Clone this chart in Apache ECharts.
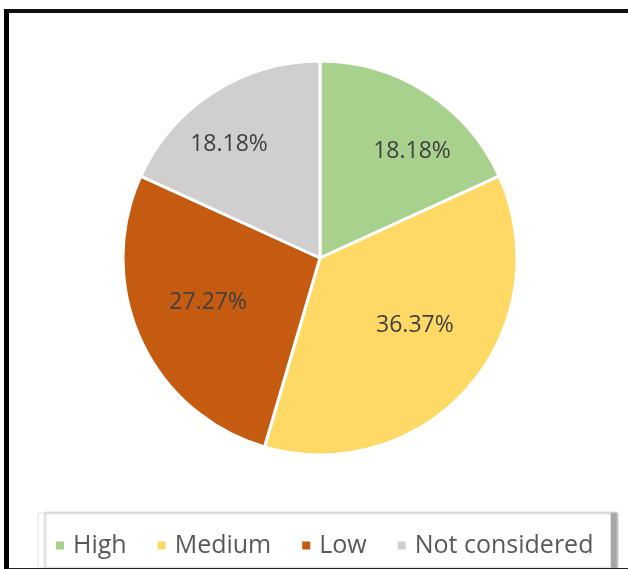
<!DOCTYPE html>
<html>
<head>
<meta charset="utf-8">
<script src="https://cdn.jsdelivr.net/npm/echarts@6/dist/echarts.min.js"></script>
<style>
html,body{margin:0;padding:0;background:#fff;overflow:hidden;}
#frame{position:absolute;left:4px;top:9px;width:640px;height:555px;border-left:5px solid #000;border-top:4px solid #111;border-bottom:2px solid #222;pointer-events:none;z-index:5;}
#chart{position:absolute;left:0;top:0;width:628px;height:569px;}
</style>
</head>
<body>
<div id="chart"></div>
<div id="frame"></div>
<script>
const categories = ['High', 'Medium', 'Low', 'Not considered'];
const values = [18.18, 36.37, 27.27, 18.18];
const colors = ['#A9D18E', '#FFD966', '#C55A11', '#D0CECE'];
// small per-label nudges (px) to mimic the original label placement
const labelNudge = [[22, 2], [-3, -17], [6, -9], [-21, -5]];

const data = categories.map((c, i) => ({ name: c, value: values[i], itemStyle: { color: colors[i] } }));
const labelData = categories.map((c, i) => ({ name: c, value: values[i] }));

const chart = echarts.init(document.getElementById('chart'), null, { renderer: 'canvas' });
chart.setOption({
  backgroundColor: 'transparent',
  animation: false,
  legend: {
    data: categories,
    left: 38,
    top: 513,
    width: 573,
    padding: [20, 17, 10, 16],
    itemWidth: 10,
    itemHeight: 10,
    itemGap: 29,
    icon: 'rect',
    backgroundColor: '#fff',
    borderColor: '#e2e2e2',
    borderWidth: 1,
    shadowColor: 'rgba(0,0,0,0.35)',
    shadowBlur: 2,
    shadowOffsetX: 7,
    shadowOffsetY: 0,
    textStyle: { fontFamily: 'Open Sans', fontSize: 25, color: '#595959', padding: [0, 0, 0, 3] }
  },
  series: [
    {
      type: 'pie',
      center: [320, 258],
      radius: [0, 197],
      startAngle: 90,
      clockwise: true,
      silent: true,
      label: { show: false },
      labelLine: { show: false },
      itemStyle: { borderColor: '#fff', borderWidth: 3 },
      data: data
    },
    {
      type: 'pie',
      center: [320, 258],
      radius: [56, 197],
      startAngle: 90,
      clockwise: true,
      silent: true,
      legendHoverLink: false,
      itemStyle: { color: 'transparent', borderWidth: 0 },
      label: {
        show: true,
        position: 'inside',
        fontFamily: 'Open Sans',
        fontSize: 23,
        color: '#404040',
        formatter: p => p.value.toFixed(2) + '%'
      },
      labelLayout: p => ({ dx: labelNudge[p.dataIndex][0], dy: labelNudge[p.dataIndex][1] }),
      labelLine: { show: false },
      data: labelData
    }
  ]
});
</script>
</body>
</html>
